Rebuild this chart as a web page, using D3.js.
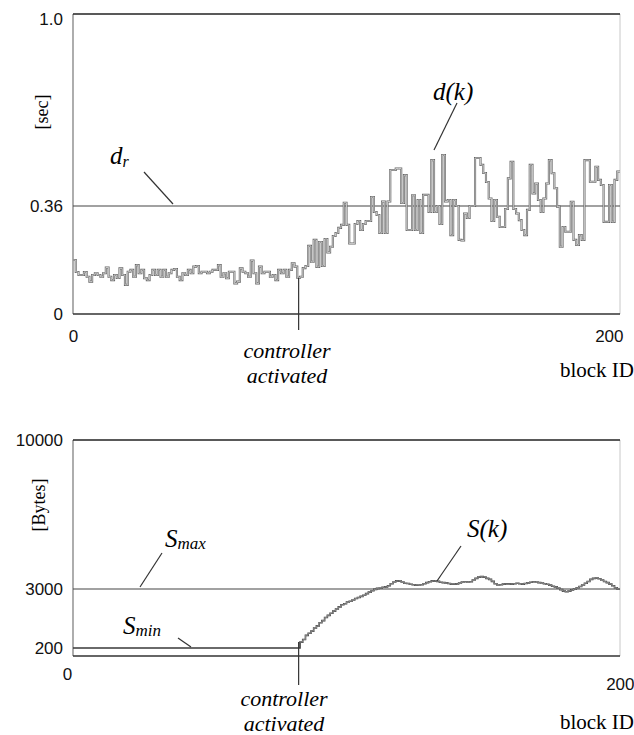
<!DOCTYPE html>
<html>
<head>
<meta charset="utf-8">
<script src="https://cdn.jsdelivr.net/npm/d3@7/dist/d3.min.js"></script>
<style>
  html, body { margin: 0; padding: 0; background: #fff; }
  svg { display: block; }
</style>
</head>
<body>
<svg id="chart" width="634" height="735"></svg>
<script>
// ---------------- DATA ----------------
// block delay d(k) [sec], blocks 0..199
const delayValues = [
  0.18,0.14,0.13,0.13,0.14,0.124,0.108,0.13,0.136,0.13,
  0.124,0.136,0.155,0.124,0.113,0.13,0.12,0.152,0.13,0.097,
  0.141,0.147,0.124,0.163,0.136,0.147,0.119,0.113,0.13,0.147,
  0.13,0.147,0.124,0.147,0.124,0.136,0.147,0.15,0.124,0.113,
  0.136,0.13,0.147,0.136,0.158,0.16,0.136,0.141,0.141,0.136,
  0.141,0.147,0.147,0.163,0.124,0.136,0.119,0.141,0.141,0.102,
  0.108,0.152,0.141,0.136,0.124,0.178,0.136,0.102,0.158,0.136,
  0.141,0.141,0.124,0.13,0.113,0.147,0.136,0.147,0.124,0.147,
  0.169,0.158,0.121,0.124,0.153,0.16,0.227,0.174,0.247,0.157,
  0.24,0.16,0.25,0.205,0.224,0.26,0.27,0.287,0.297,0.371,
  0.297,0.235,0.235,0.30,0.31,0.28,0.30,0.31,0.31,0.39,
  0.34,0.33,0.27,0.375,0.27,0.375,0.48,0.48,0.485,0.485,
  0.37,0.463,0.28,0.28,0.396,0.28,0.38,0.27,0.397,0.397,
  0.34,0.513,0.34,0.36,0.30,0.53,0.375,0.38,0.263,0.38,
  0.36,0.247,0.245,0.335,0.32,0.36,0.36,0.52,0.52,0.497,
  0.47,0.44,0.385,0.31,0.38,0.324,0.29,0.29,0.35,0.452,
  0.507,0.35,0.335,0.313,0.28,0.263,0.347,0.497,0.402,0.435,
  0.38,0.34,0.385,0.435,0.513,0.469,0.419,0.358,0.224,0.29,
  0.274,0.274,0.374,0.247,0.23,0.263,0.247,0.513,0.513,0.441,
  0.441,0.491,0.447,0.43,0.307,0.307,0.43,0.307,0.447,0.475
];
// block size S(k) [Bytes], blocks 0..199
const sizeValues = [
  200,200,200,200,200,200,200,200,200,200,
  200,200,200,200,200,200,200,200,200,200,
  200,200,200,200,200,200,200,200,200,200,
  200,200,200,200,200,200,200,200,200,200,
  200,200,200,200,200,200,200,200,200,200,
  200,200,200,200,200,200,200,200,200,200,
  200,200,200,200,200,200,200,200,200,200,
  200,200,200,200,200,200,200,200,200,200,
  200,200,200,480,600,800,900,1000,1150,1250,
  1400,1500,1650,1750,1850,1950,2050,2150,2250,2300,
  2380,2420,2480,2550,2600,2650,2700,2780,2850,2920,
  2980,3030,3050,3080,3100,3150,3250,3330,3380,3370,
  3330,3270,3260,3220,3200,3180,3190,3200,3250,3300,
  3340,3380,3370,3360,3320,3300,3290,3260,3230,3230,
  3240,3280,3330,3340,3330,3340,3420,3500,3560,3580,
  3560,3500,3450,3360,3250,3190,3200,3230,3240,3240,
  3230,3250,3270,3250,3230,3260,3290,3320,3340,3330,
  3300,3280,3250,3220,3180,3130,3100,3050,2970,2900,
  2870,2900,2960,3000,3060,3120,3190,3270,3350,3450,
  3500,3510,3480,3420,3350,3300,3230,3150,3060,2990
];
const delayRef = 0.36;          // d_r
const sizeMin = 200;            // S_min
const sizeMax = 3000;           // S_max
const controllerBlock = 82.5;   // controller activated
const xTicks = [0, 200];
const xTickLabels = ["0", "200"];
const topTicks = [0, 0.36, 1.0];
const topTickLabels = ["0", "0.36", "1.0"];
const bottomTicks = [200, 3000, 10000];
const bottomTickLabels = ["200", "3000", "10000"];

// ---------------- LAYOUT ----------------
const svg = d3.select("#chart");
const SANS = "'Liberation Sans', Arial, sans-serif";
const SERIF = "'Liberation Serif', 'Times New Roman', serif";

const x = d3.scaleLinear().domain([0, 200]).range([73, 620]);
const yTop = d3.scaleLinear().domain([0, 1]).range([314, 14]);
const yBot = d3.scaleLinear().domain([0, 200, 3000, 10000]).range([656, 648, 589, 440]);

function stepSeries(vals) {
  const pts = vals.map((v, i) => [i, v]);
  pts.push([vals.length, vals[vals.length - 1]]);
  return pts;
}

function panel(g, y, ticks, tickLabels) {
  const dom = y.domain();
  const y0 = y(dom[0]), y1 = y(dom[dom.length - 1]);
  g.append("line").attr("x1", x(0)).attr("x2", x(0)).attr("y1", y1).attr("y2", y0)
    .attr("stroke", "#777").attr("stroke-width", 1.2);
  g.append("line").attr("x1", x(200)).attr("x2", x(200)).attr("y1", y1).attr("y2", y0)
    .attr("stroke", "#c8c8c8").attr("stroke-width", 1);
  g.append("line").attr("x1", x(0)).attr("x2", x(200)).attr("y1", y1).attr("y2", y1)
    .attr("stroke", "#222").attr("stroke-width", 1.6);
  g.append("line").attr("x1", x(0)).attr("x2", x(200)).attr("y1", y0).attr("y2", y0)
    .attr("stroke", "#333").attr("stroke-width", 1.6);
  const ax = d3.axisLeft(y).tickValues(ticks).tickSize(0).tickPadding(10)
    .tickFormat((d, i) => tickLabels[i]);
  const axg = g.append("g").attr("transform", `translate(${x(0)},0)`).call(ax);
  axg.select(".domain").remove();
  axg.selectAll("text").attr("font-family", SANS).attr("font-size", 17).attr("fill", "#111");
  return axg;
}

// ---------- TOP PANEL ----------
const gTop = svg.append("g");
const topAx = panel(gTop, yTop, topTicks, topTickLabels);
topAx.selectAll("text").attr("dy", (d) => d === 1 ? "0.6em" : "0.32em");

gTop.append("line").attr("x1", x(0)).attr("x2", x(200))
  .attr("y1", yTop(delayRef)).attr("y2", yTop(delayRef))
  .attr("stroke", "#444").attr("stroke-width", 1.1);

const lineTop = d3.line().x(d => x(d[0])).y(d => yTop(d[1])).curve(d3.curveStepAfter);
gTop.append("path").datum(stepSeries(delayValues)).attr("d", lineTop)
  .attr("fill", "none").attr("stroke", "#666").attr("stroke-width", 2.1);
gTop.append("path").datum(stepSeries(delayValues)).attr("d", lineTop)
  .attr("fill", "none").attr("stroke", "#eeeeee").attr("stroke-width", 0.7);

gTop.append("line").attr("x1", x(controllerBlock)).attr("x2", x(controllerBlock))
  .attr("y1", yTop(delayValues[82])).attr("y2", yTop(0) + 16)
  .attr("stroke", "#333").attr("stroke-width", 1.2);

const xaTop = d3.axisBottom(x).tickValues(xTicks).tickSize(0).tickPadding(16)
  .tickFormat((d, i) => xTickLabels[i]);
const xgTop = gTop.append("g").attr("transform", `translate(0,${yTop(0)})`).call(xaTop);
xgTop.select(".domain").remove();
xgTop.selectAll("text").attr("font-family", SANS).attr("font-size", 17).attr("fill", "#111")
  .attr("text-anchor", (d, i) => i === 1 ? "end" : "middle")
  .attr("dx", (d, i) => i === 1 ? 3 : 0);

gTop.append("text").attr("transform", `translate(48,112) rotate(-90)`)
  .attr("text-anchor", "middle").attr("font-family", SERIF).attr("font-size", 18).text("[sec]");

gTop.append("text").attr("x", 110).attr("y", 164).attr("font-family", SERIF)
  .attr("font-style", "italic").attr("font-size", 25).text("d")
  .append("tspan").attr("font-size", 16).attr("dy", 3).text("r");
gTop.append("line").attr("x1", 144).attr("y1", 172).attr("x2", 173).attr("y2", 204)
  .attr("stroke", "#333").attr("stroke-width", 1.2);

gTop.append("text").attr("x", 433).attr("y", 100).attr("font-family", SERIF)
  .attr("font-style", "italic").attr("font-size", 25).text("d(k)");
gTop.append("line").attr("x1", 457).attr("y1", 103).attr("x2", 434).attr("y2", 150)
  .attr("stroke", "#333").attr("stroke-width", 1.2);

gTop.append("text").attr("x", 287).attr("y", 358).attr("text-anchor", "middle")
  .attr("font-family", SERIF).attr("font-style", "italic").attr("font-size", 22).text("controller");
gTop.append("text").attr("x", 287).attr("y", 383).attr("text-anchor", "middle")
  .attr("font-family", SERIF).attr("font-style", "italic").attr("font-size", 22).text("activated");
gTop.append("text").attr("x", 634).attr("y", 377).attr("text-anchor", "end")
  .attr("font-family", SERIF).attr("font-size", 21).text("block ID");

// ---------- BOTTOM PANEL ----------
const gBot = svg.append("g");
panel(gBot, yBot, bottomTicks, bottomTickLabels);

gBot.append("line").attr("x1", x(0)).attr("x2", x(200))
  .attr("y1", yBot(sizeMax)).attr("y2", yBot(sizeMax))
  .attr("stroke", "#444").attr("stroke-width", 1.2);

const lineBot = d3.line().x(d => x(d[0])).y(d => yBot(d[1])).curve(d3.curveStepAfter);
gBot.append("path").datum(stepSeries(sizeValues)).attr("d", lineBot)
  .attr("fill", "none").attr("stroke", "#3a3a3a").attr("stroke-width", 1.6);
gBot.append("path").datum(stepSeries(sizeValues).filter(d => d[0] >= 83)).attr("d", lineBot)
  .attr("fill", "none").attr("stroke", "#cfcfcf").attr("stroke-width", 0.5);

gBot.append("line").attr("x1", x(controllerBlock)).attr("x2", x(controllerBlock))
  .attr("y1", yBot(sizeValues[83])).attr("y2", yBot(0) + 29)
  .attr("stroke", "#333").attr("stroke-width", 1.2);

const xaBot = d3.axisBottom(x).tickValues(xTicks).tickSize(0).tickPadding(12)
  .tickFormat((d, i) => xTickLabels[i]);
const xgBot = gBot.append("g").attr("transform", `translate(0,${yBot(0)})`).call(xaBot);
xgBot.select(".domain").remove();
xgBot.selectAll("text").attr("font-family", SANS).attr("font-size", 17).attr("fill", "#111")
  .attr("text-anchor", (d, i) => i === 1 ? "end" : "middle")
  .attr("dx", (d, i) => i === 1 ? 14 : -6)
  .attr("dy", (d, i) => i === 1 ? "1.3em" : "0.71em");

gBot.append("text").attr("transform", `translate(45,505) rotate(-90)`)
  .attr("text-anchor", "middle").attr("font-family", SERIF).attr("font-size", 18).text("[Bytes]");

gBot.append("text").attr("x", 165).attr("y", 547).attr("font-family", SERIF)
  .attr("font-style", "italic").attr("font-size", 25).text("S")
  .append("tspan").attr("font-size", 17).attr("dy", 2).text("max");
gBot.append("line").attr("x1", 162).attr("y1", 553).attr("x2", 140).attr("y2", 587)
  .attr("stroke", "#333").attr("stroke-width", 1.2);

gBot.append("text").attr("x", 123).attr("y", 634).attr("font-family", SERIF)
  .attr("font-style", "italic").attr("font-size", 25).text("S")
  .append("tspan").attr("font-size", 17).attr("dy", 2).text("min");
gBot.append("line").attr("x1", 178).attr("y1", 638).attr("x2", 191).attr("y2", 647)
  .attr("stroke", "#333").attr("stroke-width", 1.2);

gBot.append("text").attr("x", 467).attr("y", 537).attr("font-family", SERIF)
  .attr("font-style", "italic").attr("font-size", 25).text("S(k)");
gBot.append("line").attr("x1", 461).attr("y1", 546).attr("x2", 437).attr("y2", 581)
  .attr("stroke", "#333").attr("stroke-width", 1.2);

gBot.append("text").attr("x", 284).attr("y", 706).attr("text-anchor", "middle")
  .attr("font-family", SERIF).attr("font-style", "italic").attr("font-size", 22).text("controller");
gBot.append("text").attr("x", 284).attr("y", 731).attr("text-anchor", "middle")
  .attr("font-family", SERIF).attr("font-style", "italic").attr("font-size", 22).text("activated");
gBot.append("text").attr("x", 634).attr("y", 729).attr("text-anchor", "end")
  .attr("font-family", SERIF).attr("font-size", 21).text("block ID");
</script>
</body>
</html>
